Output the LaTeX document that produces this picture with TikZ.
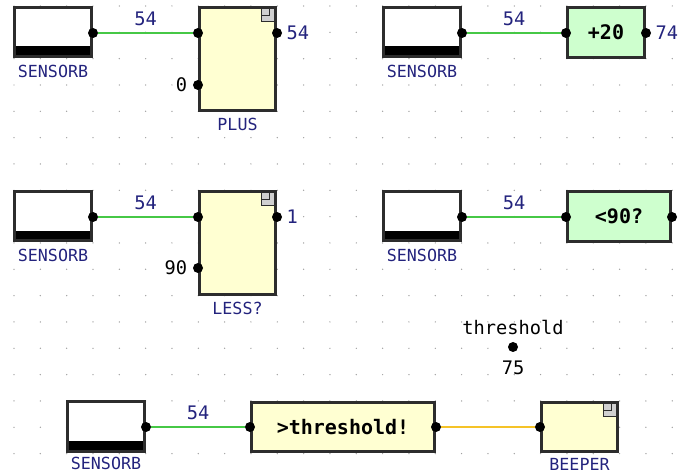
\documentclass[tikz,border=0pt]{standalone}
\usepackage{fontspec}
\usepackage{tikz}
\usetikzlibrary{positioning,calc}
\newfontfamily\blockfont{DejaVu Sans Mono}
\definecolor{navy}{RGB}{35,35,125}
\definecolor{frame}{RGB}{45,45,45}
\definecolor{pale}{RGB}{255,255,210}
\definecolor{mint}{RGB}{206,255,206}
\definecolor{wireg}{RGB}{70,200,70}
\definecolor{wirey}{RGB}{245,195,40}
\definecolor{dotgrey}{RGB}{160,160,160}
\definecolor{tab}{RGB}{208,208,208}
\tikzset{
  sensor/.style={draw=frame,line width=2.25pt,fill=white,inner sep=0pt,
    minimum width=57.75pt,minimum height=36.75pt,
    path picture={\fill[black] (path picture bounding box.south west) rectangle
      ([yshift=7.5pt]path picture bounding box.south east);}},
  blk/.style={draw=frame,line width=2.25pt,fill=pale,inner sep=0pt,
    font=\blockfont\bfseries\fontsize{15}{15}\selectfont},
  op/.style={blk,fill=mint},
  tabbed/.style={path picture={
    \draw[frame,fill=tab,line width=0.8pt] ([xshift=-10.5pt]path picture bounding box.north east)
      rectangle ([yshift=-10.5pt]path picture bounding box.north east);
    \draw[frame,line width=0.8pt] ([xshift=-10.5pt]path picture bounding box.north east)
      rectangle ([xshift=-4.5pt,yshift=-6pt]path picture bounding box.north east);}},
  port/.style={circle,fill=black,inner sep=0pt,minimum size=7.5pt},
  wire/.style={wireg,line width=1.5pt},
  ywire/.style={wirey,line width=1.5pt},
  tag/.style={font=\blockfont\fontsize{12.5}{12.5}\selectfont,text=navy,inner sep=0pt},
  val/.style={font=\blockfont\fontsize{14}{14}\selectfont,text=navy,inner sep=0pt},
  inval/.style={val,text=black},
}
\begin{document}
\begin{tikzpicture}[x=0.75pt,y=-0.75pt]
  \useasboundingbox (0,0) rectangle (681,473);
  % dotted grid
  \foreach \i in {0,...,25}
    \foreach \j in {0,...,17}
      \fill[dotgrey] (14+26.33*\i,6+26.33*\j) circle (0.55pt);

  % row 1
  \node[sensor] (s1) at (53,32) {};
  \node[tag,below=5pt of s1] (s1-name) {SENSORB};
  \node[blk,tabbed,minimum width=57pt,minimum height=77.25pt] (plus) at (237.5,59) {};
  \node[tag,below=4.5pt of plus] (plus-name) {PLUS};
  \node[port] (s1-o) at (93,33) {};
  \node[port] (plus-a) at (198,33) {};
  \node[port] (plus-b) at (198,85) {};
  \node[port] (plus-o) at (277,33) {};
  \node[inval,left=4pt of plus-b] (plus-b-val) {0};
  \node[val,right=3pt of plus-o] (plus-o-val) {54};
  \draw[wire] (s1-o) -- node[val,above=5pt] (w1-val) {54} (plus-a);

  \node[sensor] (s2) at (422,32) {};
  \node[tag,below=5pt of s2] (s2-name) {SENSORB};
  \node[op,minimum width=57.75pt,minimum height=37.5pt] (add) at (606,32.5) {+20};
  \node[port] (s2-o) at (462,33) {};
  \node[port] (add-a) at (566,33) {};
  \node[port] (add-o) at (646,33) {};
  \node[val,right=3pt of add-o] (add-o-val) {74};
  \draw[wire] (s2-o) -- node[val,above=5pt] (w2-val) {54} (add-a);

  % row 2
  \node[sensor] (s3) at (53,216.5) {};
  \node[tag,below=5pt of s3] (s3-name) {SENSORB};
  \node[blk,tabbed,minimum width=57pt,minimum height=77.25pt] (less) at (237.5,243) {};
  \node[tag,below=4.5pt of less] (less-name) {LESS?};
  \node[port] (s3-o) at (93,217) {};
  \node[port] (less-a) at (198,217) {};
  \node[port] (less-b) at (198,268) {};
  \node[port] (less-o) at (277,217) {};
  \node[inval,left=4pt of less-b] (less-b-val) {90};
  \node[val,right=3pt of less-o] (less-o-val) {1};
  \draw[wire] (s3-o) -- node[val,above=5pt] (w3-val) {54} (less-a);

  \node[sensor] (s4) at (422,216.5) {};
  \node[tag,below=5pt of s4] (s4-name) {SENSORB};
  \node[op,minimum width=77.25pt,minimum height=37.5pt] (cmp) at (619,216.5) {<90?};
  \node[port] (s4-o) at (462,217) {};
  \node[port] (cmp-a) at (566,217) {};
  \node[port] (cmp-o) at (672,217) {};
  \draw[wire] (s4-o) -- node[val,above=5pt] (w4-val) {54} (cmp-a);

  % variable
  \node[port] (thr) at (513,347) {};
  \node[inval,above=5pt of thr] (thr-name) {threshold};
  \node[inval,below=6pt of thr] (thr-val) {75};

  % row 3
  \node[sensor] (s5) at (106,426.5) {};
  \node[tag,below=3.5pt of s5] (s5-name) {SENSORB};
  \node[blk,minimum width=137.25pt,minimum height=36.75pt] (gt) at (343,427) {>threshold!};
  \node[blk,tabbed,minimum width=57pt,minimum height=36.75pt] (beep) at (579.5,427) {};
  \node[tag,below=3.5pt of beep] (beep-name) {BEEPER};
  \node[port] (s5-o) at (146,427) {};
  \node[port] (gt-a) at (250,427) {};
  \node[port] (gt-o) at (436,427) {};
  \node[port] (beep-a) at (540,427) {};
  \draw[wire] (s5-o) -- node[val,above=5pt] (w5-val) {54} (gt-a);
  \draw[ywire] (gt-o) -- (beep-a);
\end{tikzpicture}
\end{document}
